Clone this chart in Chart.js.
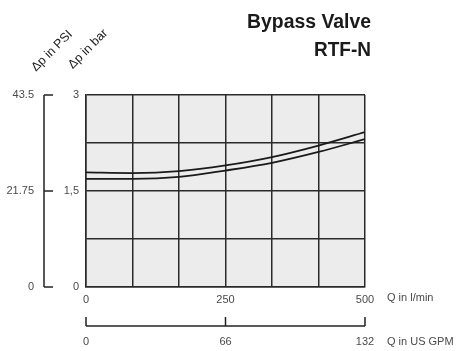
<!DOCTYPE html>
<html>
<head>
<meta charset="utf-8">
<script src="https://cdn.jsdelivr.net/npm/chart.js@4/dist/chart.umd.min.js"></script>
<style>
html,body{margin:0;padding:0;background:#fff;}
#wrap{position:relative;width:458px;height:351px;}
</style>
</head>
<body>
<div id="wrap"><canvas id="c" width="458" height="351"></canvas></div>
<script>
// Data
const flowLmin = [0, 83.3, 166.7, 250, 333.3, 416.7, 500];
const upperBar = [1.79, 1.78, 1.81, 1.90, 2.03, 2.21, 2.42];
const lowerBar = [1.69, 1.69, 1.72, 1.82, 1.94, 2.11, 2.31];
const barTicks = [0, 1.5, 3];
const barTickLabels = ['0', '1,5', '3'];
const flowTicks = [0, 250, 500];
const psiTicks = [0, 21.75, 43.5];
const psiMax = 43.5;
const gpmTicks = [0, 66, 132];
const gpmMax = 132;
const titleLines = ['Bypass Valve', 'RTF-N'];

const FONT = '"Liberation Sans", Arial, sans-serif';
const TXT = '#4a4a4a';

function condensedText(ctx, text, xRight, y, width) {
  const w = ctx.measureText(text).width;
  const s = width / w;
  ctx.save();
  ctx.translate(xRight, y);
  ctx.scale(s, 1);
  ctx.textAlign = 'right';
  ctx.fillText(text, 0, 0);
  ctx.restore();
}

const extras = {
  id: 'extras',
  beforeDraw(chart) {
    const {ctx, chartArea: a} = chart;
    ctx.save();
    ctx.fillStyle = '#ececec';
    ctx.fillRect(a.left, a.top, a.right - a.left, a.bottom - a.top);
    ctx.restore();
  },
  afterDraw(chart) {
    const {ctx, scales} = chart;
    const y = scales.y, x = scales.x;
    ctx.save();
    ctx.strokeStyle = '#222';
    ctx.lineWidth = 1.5;
    // PSI bracket
    const bx = 44, tl = 9;
    ctx.beginPath();
    ctx.moveTo(bx, y.getPixelForValue(0));
    ctx.lineTo(bx, y.getPixelForValue(3));
    ctx.stroke();
    ctx.font = '11px ' + FONT;
    ctx.fillStyle = TXT;
    ctx.textAlign = 'right';
    ctx.textBaseline = 'middle';
    psiTicks.forEach(p => {
      const py = y.getPixelForValue(p / psiMax * 3);
      ctx.beginPath();
      ctx.moveTo(bx, py); ctx.lineTo(bx + tl, py); ctx.stroke();
      ctx.fillText(String(p), 34, py);
    });
    // GPM bracket
    const by = 326;
    ctx.beginPath();
    ctx.moveTo(x.getPixelForValue(0), by);
    ctx.lineTo(x.getPixelForValue(500), by);
    ctx.stroke();
    ctx.textAlign = 'center';
    gpmTicks.forEach(g => {
      const px = x.getPixelForValue(g / gpmMax * 500);
      ctx.beginPath();
      ctx.moveTo(px, by); ctx.lineTo(px, by - 9); ctx.stroke();
      ctx.fillText(String(g), px, 342);
    });
    // axis titles
    ctx.textAlign = 'left';
    ctx.fillText('Q in l/min', 387, 298);
    ctx.fillText('Q in US GPM', 387, 342);
    // rotated y titles
    ctx.font = '12.5px ' + FONT;
    ctx.fillStyle = '#222';
    ctx.textAlign = 'center';
    ctx.textBaseline = 'middle';
    [['\u0394p in PSI', 52, 51], ['\u0394p in bar', 88, 49]].forEach(([t, cx, cy]) => {
      ctx.save();
      ctx.translate(cx, cy);
      ctx.rotate(-Math.PI / 4);
      ctx.fillText(t, 0, 0);
      ctx.restore();
    });
    // title
    ctx.font = 'bold 20px ' + FONT;
    ctx.fillStyle = '#1a1a1a';
    ctx.textBaseline = 'middle';
    condensedText(ctx, titleLines[0], 371, 22, 124);
    condensedText(ctx, titleLines[1], 371, 50, 57);
    ctx.restore();
  }
};

new Chart(document.getElementById('c'), {
  type: 'line',
  data: {
    datasets: [
      {data: flowLmin.map((v, i) => ({x: v, y: upperBar[i]})), borderColor: '#1a1a1a', borderWidth: 1.8, pointRadius: 0, tension: 0.4, cubicInterpolationMode: 'monotone', fill: false},
      {data: flowLmin.map((v, i) => ({x: v, y: lowerBar[i]})), borderColor: '#1a1a1a', borderWidth: 1.8, pointRadius: 0, tension: 0.4, cubicInterpolationMode: 'monotone', fill: false}
    ]
  },
  options: {
    responsive: false,
    animation: false,
    events: [],
    layout: {padding: {left: 0, right: 93, top: 95, bottom: 0}},
    plugins: {legend: {display: false}, tooltip: {enabled: false}},
    scales: {
      x: {
        type: 'linear', min: 0, max: 500,
        afterFit(s) { s.height = 64; },
        afterBuildTicks(s) { s.ticks = flowLmin.map(v => ({value: v})); },
        grid: {color: '#2a2a2a', lineWidth: 1.5, drawTicks: false},
        border: {color: '#2a2a2a', width: 1.5},
        ticks: {
          padding: 6, maxRotation: 0, autoSkip: false,
          color: TXT, font: {family: FONT, size: 11},
          callback: v => flowTicks.includes(Math.round(v)) && Math.abs(v - Math.round(v)) < 0.01 ? String(Math.round(v)) : ''
        }
      },
      y: {
        type: 'linear', min: 0, max: 3,
        afterFit(s) { s.width = 86; },
        afterBuildTicks(s) { s.ticks = [0, 0.75, 1.5, 2.25, 3].map(v => ({value: v})); },
        grid: {color: '#2a2a2a', lineWidth: 1.5, drawTicks: false},
        border: {color: '#2a2a2a', width: 1.5},
        ticks: {
          padding: 7, color: TXT, font: {family: FONT, size: 11},
          callback: v => { const i = barTicks.indexOf(v); return i >= 0 ? barTickLabels[i] : ''; }
        }
      }
    }
  },
  plugins: [extras]
});
</script>
</body>
</html>
